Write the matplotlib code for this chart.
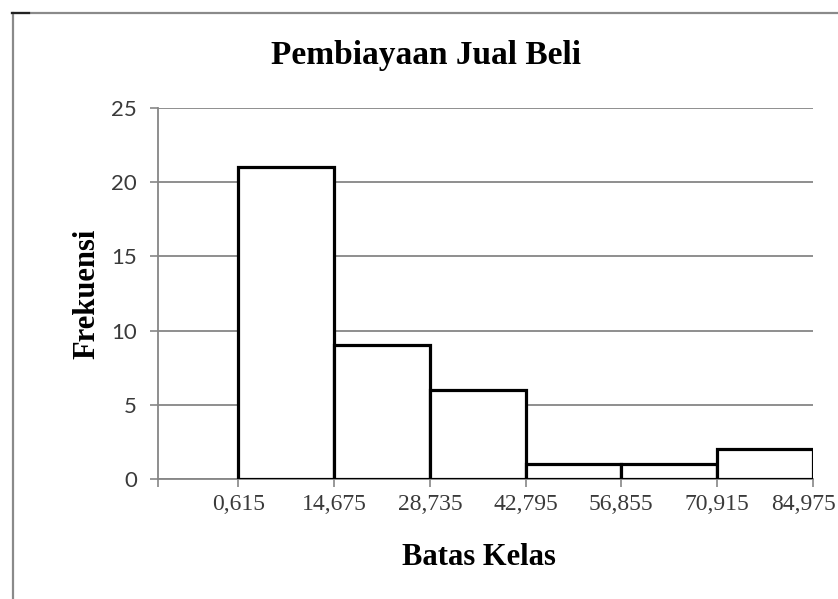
import matplotlib
matplotlib.use("Agg")
import matplotlib.pyplot as plt
import matplotlib.transforms as mtransforms
from matplotlib.lines import Line2D

# class boundaries and frequency of each class
batas = [0.615, 14.675, 28.735, 42.795, 56.855, 70.915, 84.975]
label_batas = ["0,615", "14,675", "28,735", "42,795", "56,855", "70,915", "84,975"]
frekuensi = [21, 9, 6, 1, 1, 2]
y_ticks = [0, 5, 10, 15, 20, 25]

judul = "Pembiayaan Jual Beli"
label_x = "Batas Kelas"
label_y = "Frekuensi"

serif = "Liberation Serif"
grey = "#868686"

fig = plt.figure(figsize=(8.38, 5.99), dpi=100)
ax = fig.add_axes([0.1885, 0.2003, 0.7815, 0.6194])

lebar = batas[1] - batas[0]
ax.bar(batas[:-1], frekuensi, width=lebar, align="edge",
       color="white", edgecolor="black", linewidth=2.3, zorder=3)

kiri = batas[0] - 0.84 * lebar
ax.set_xlim(kiri, batas[-1])
ax.set_ylim(0, 25)

ax.set_yticks(y_ticks)
ax.yaxis.grid(True, color=grey, linewidth=1.3, zorder=0)
ax.set_axisbelow(True)
for t in ax.get_yticklabels():
    t.set_fontfamily("Lato")
    t.set_fontsize(16)
    t.set_color("#3a3a3a")

ax.set_xticks([kiri] + batas)
ax.set_xticklabels([""] + label_batas, fontfamily=serif, fontsize=17, color="#3a3a3a")

ax.tick_params(axis="both", direction="out", length=6, width=1.2, color=grey)
ax.tick_params(axis="y", pad=9)
ax.tick_params(axis="x", pad=5)

# last boundary label is pulled left so it stays inside the figure
last = ax.get_xticklabels()[-1]
last.set_transform(last.get_transform() +
                   mtransforms.ScaledTranslation(-9 / 100, 0, fig.dpi_scale_trans))

for s in ["top", "right"]:
    ax.spines[s].set_visible(False)
ax.spines["left"].set_color(grey)
ax.spines["left"].set_linewidth(1.3)
ax.spines["bottom"].set_color(grey)
ax.spines["bottom"].set_linewidth(1.3)

fig.text(0.508, 0.907, judul, ha="center", va="center",
         fontfamily=serif, fontweight="bold", fontsize=24)
fig.text(0.572, 0.07, label_x, ha="center", va="center",
         fontfamily=serif, fontweight="bold", fontsize=22)
fig.text(0.104, 0.51, label_y, ha="center", va="center", rotation=90,
         fontfamily=serif, fontweight="bold", fontsize=22)

# outer frame of the chart area
fig.add_artist(Line2D([0.0145, 1.0], [0.979, 0.979], color="#8a8a8a", linewidth=1.6))
fig.add_artist(Line2D([0.0155, 0.0155], [0.0, 0.979], color="#8a8a8a", linewidth=1.6))
fig.add_artist(Line2D([0.0145, 0.035], [0.979, 0.979], color="#222222", linewidth=1.6))

fig.savefig("out.png", dpi=100)
